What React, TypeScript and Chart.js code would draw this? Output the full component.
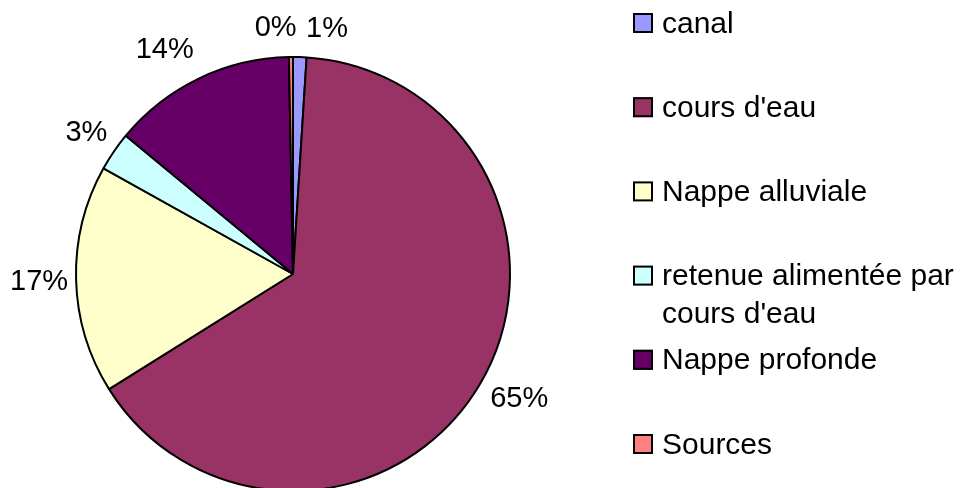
import React, { useEffect, useRef } from "react";
import { Chart, registerables } from "chart.js";

Chart.register(...registerables);

// ---- data ----
const categories = [
  "canal",
  "cours d'eau",
  "Nappe alluviale",
  "retenue alimentée par cours d'eau",
  "Nappe profonde",
  "Sources",
];
const legendLines = [
  ["canal"],
  ["cours d'eau"],
  ["Nappe alluviale"],
  ["retenue alimentée par", "cours d'eau"],
  ["Nappe profonde"],
  ["Sources"],
];
const shares = [1.0, 65.1, 17.0, 2.9, 13.7, 0.3];
const colors = ["#9999FF", "#993366", "#FFFFCC", "#CCFFFF", "#660066", "#FF8080"];
// small manual offsets of the percentage labels (px), as placed in the original
const labelNudges = [
  [26, 6],
  [8, -7],
  [0, -1],
  [3, 0],
  [-18, 2],
  [-15, 6],
];

const FONT_FAMILY = '"Liberation Sans", Arial, Helvetica, sans-serif';
const LABEL_FONT_SIZE = 29;
const LEGEND_FONT_SIZE = 30;

const W = 964;
const H = 500;

const pieLabelsPlugin = {
  id: "pieLabels",
  afterDatasetsDraw(chart: any) {
    const ctx = chart.ctx as CanvasRenderingContext2D;
    const meta = chart.getDatasetMeta(0);
    const data = chart.data.datasets[0].data as number[];
    const total = data.reduce((a, b) => a + b, 0);
    ctx.save();
    ctx.font = `${LABEL_FONT_SIZE}px ${FONT_FAMILY}`;
    ctx.fillStyle = "#000";
    ctx.textAlign = "center";
    ctx.textBaseline = "alphabetic";
    meta.data.forEach((arc: any, i: number) => {
      const p = arc.getProps(["x", "y", "startAngle", "endAngle", "outerRadius"], true);
      const mid = (p.startAngle + p.endAngle) / 2;
      const R = p.outerRadius + 37;
      const n = labelNudges[i] || [0, 0];
      const cx = p.x + Math.cos(mid) * R + n[0];
      const cy = p.y + Math.sin(mid) * R + n[1];
      const txt = Math.round((data[i] / total) * 100) + "%";
      ctx.fillText(txt, cx, cy + LABEL_FONT_SIZE * 0.716 / 2);
    });
    ctx.restore();
  },
};

const legendPlugin = {
  id: "customLegend",
  afterDraw(chart: any) {
    const ctx = chart.ctx as CanvasRenderingContext2D;
    const boxX = 633;
    const box = 20;
    const firstRow = 23;
    const rowStep = 84.2;
    const lineH = 37.5;
    ctx.save();
    ctx.font = `${LEGEND_FONT_SIZE}px ${FONT_FAMILY}`;
    ctx.textAlign = "left";
    ctx.textBaseline = "alphabetic";
    legendLines.forEach((lines, i) => {
      const cy = firstRow + i * rowStep;
      ctx.fillStyle = colors[i];
      ctx.fillRect(boxX, cy - box / 2, box, box);
      ctx.lineWidth = 2;
      ctx.strokeStyle = "#000";
      ctx.strokeRect(boxX + 1, cy - box / 2 + 1, box - 2, box - 2);
      ctx.fillStyle = "#000";
      lines.forEach((ln, j) => {
        ctx.fillText(ln, boxX + box + 9, cy + 9.5 + j * lineH);
      });
    });
    ctx.restore();
  },
};

export default function App() {
  const ref = useRef<HTMLCanvasElement | null>(null);

  useEffect(() => {
    document.body.style.margin = "0";
    const canvas = ref.current;
    if (!canvas) return;
    const chart = new Chart(canvas, {
      type: "pie",
      data: {
        labels: categories,
        datasets: [
          {
            data: shares,
            backgroundColor: colors,
            borderColor: "#000000",
            borderWidth: 2,
          },
        ],
      },
      options: {
        responsive: false,
        animation: false,
        devicePixelRatio: 1,
        layout: {
          padding: { left: 75, top: 56, right: W - 75 - 436, bottom: H - 56 - 436 },
        },
        plugins: {
          legend: { display: false },
          tooltip: { enabled: false },
          title: { display: false },
        },
      },
      plugins: [pieLabelsPlugin, legendPlugin],
    });
    return () => chart.destroy();
  }, []);

  return (
    <div
      style={{
        position: "absolute",
        left: 0,
        top: 0,
        width: 964,
        height: 488,
        overflow: "hidden",
        background: "#fff",
      }}
    >
      <canvas ref={ref} width={W} height={H} style={{ width: W, height: H, display: "block" }} />
    </div>
  );
}
